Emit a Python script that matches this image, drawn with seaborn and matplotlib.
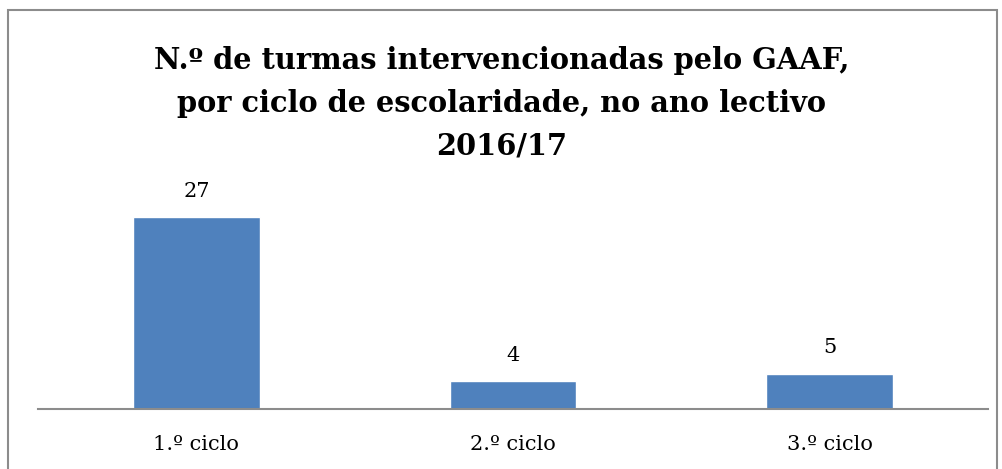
import matplotlib
matplotlib.use("Agg")
import matplotlib.pyplot as plt
import seaborn as sns
import pandas as pd
from matplotlib.patches import Rectangle

# Data
ciclos = ["1.º ciclo", "2.º ciclo", "3.º ciclo"]
turmas = [27, 4, 5]
titulo = "N.º de turmas intervencionadas pelo GAAF,\npor ciclo de escolaridade, no ano lectivo\n2016/17"

df = pd.DataFrame({"ciclo": ciclos, "turmas": turmas})

sns.set_style("white")
plt.rcParams['font.family'] = ['DejaVu Serif']
plt.rcParams['text.color'] = 'black'
plt.rcParams['xtick.color'] = 'black'

fig = plt.figure(figsize=(10.03, 4.69), dpi=100)
ax = fig.add_axes([38 / 1003, 60 / 469, 950 / 1003, 213 / 469])

sns.barplot(data=df, x="ciclo", y="turmas", color="#4F81BD", width=0.4,
            saturation=1, ax=ax)

for i, v in enumerate(turmas):
    ax.text(i, v + 3.6, str(v), ha="center", va="center", fontsize=15)

ax.set_ylim(0, 30)
ax.set_xlim(-0.5, 2.5)
ax.set_yticks([])
ax.set_xlabel("")
ax.set_ylabel("")
ax.tick_params(axis="x", length=0, labelsize=15, pad=19)
for s in ["top", "right", "left"]:
    ax.spines[s].set_visible(False)
ax.spines["bottom"].set_color("#8c8c8c")
ax.spines["bottom"].set_linewidth(1.5)

fig.text(0.5, 1 - 103 / 469, titulo, ha="center", va="center",
         fontsize=20.8, fontweight="bold", linespacing=1.6)

# chart border
fig.patches.append(Rectangle((8 / 1003, -0.05), 989 / 1003, 1 - 10 / 469 + 0.05,
                             transform=fig.transFigure, fill=False,
                             edgecolor="#8c8c8c", linewidth=1.5))

fig.savefig("out.png", dpi=100)
